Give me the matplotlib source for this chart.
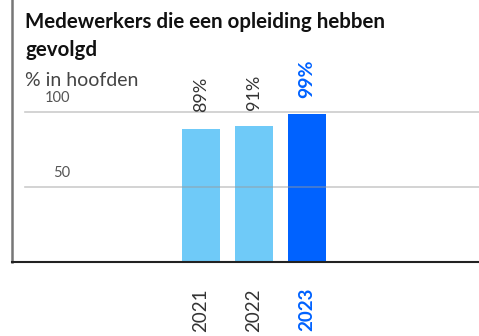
import matplotlib
matplotlib.use("Agg")
import matplotlib.pyplot as plt

years = ["2021", "2022", "2023"]
values = [89, 91, 99]
labels = ["89%", "91%", "99%"]
colors = ["#6fcaf8", "#6fcaf8", "#0062ff"]
ticks = [50, 100]

plt.rcParams['font.family'] = ['Lato', 'DejaVu Sans']

fig = plt.figure(figsize=(4.79, 3.36), dpi=100)
ax = fig.add_axes([12/479, 74/336, 467/479, 262/336])

x = list(range(len(years)))
ax.bar(x, values, width=38/53, color=colors, zorder=1)
ax.set_xlim(-189/53, 278/53)
ax.set_ylim(0, 262/1.5)

for t in ticks:
    ax.axhline(t, xmin=13/467, xmax=1, color="#999999", alpha=0.5, lw=1.2, zorder=3)
    ax.annotate(str(t), (13/467, t), xycoords=("axes fraction", "data"),
                xytext=(45, 7), textcoords="offset pixels", ha="right", va="bottom",
                fontsize=10.5, color="#555555")

for i, (v, lab) in enumerate(zip(values, labels)):
    last = i == len(values) - 1
    ax.annotate(lab, (i, v), xytext=(0, 16), textcoords="offset pixels",
                rotation=90, ha="center", va="bottom",
                fontsize=14 if last else 13,
                color="#0062ff" if last else "#333333",
                fontweight="bold" if last else "normal")
    ax.annotate(years[i], (i, 0), xytext=(0, -26), textcoords="offset pixels",
                rotation=90, ha="center", va="top", fontsize=13.5,
                color="#0062ff" if last else "#333333",
                fontweight="bold" if last else "normal")

ax.set_xticks([])
ax.set_yticks([])
for s in ["top", "right"]:
    ax.spines[s].set_visible(False)
ax.spines["left"].set_color("#777777")
ax.spines["left"].set_linewidth(1.8)
ax.spines["bottom"].set_color("#222222")
ax.spines["bottom"].set_linewidth(1.5)

fig.text(25/479, 1 - 22/336, "Medewerkers die een opleiding hebben", fontsize=14.8,
         fontweight="bold", color="#111111", va="center", ha="left")
fig.text(25/479, 1 - 50/336, "gevolgd", fontsize=14.8,
         fontweight="bold", color="#111111", va="center", ha="left")
fig.text(25/479, 1 - 80/336, "% in hoofden", fontsize=14,
         fontweight="normal", color="#444444", va="center", ha="left")

fig.savefig("out.png", dpi=100)
